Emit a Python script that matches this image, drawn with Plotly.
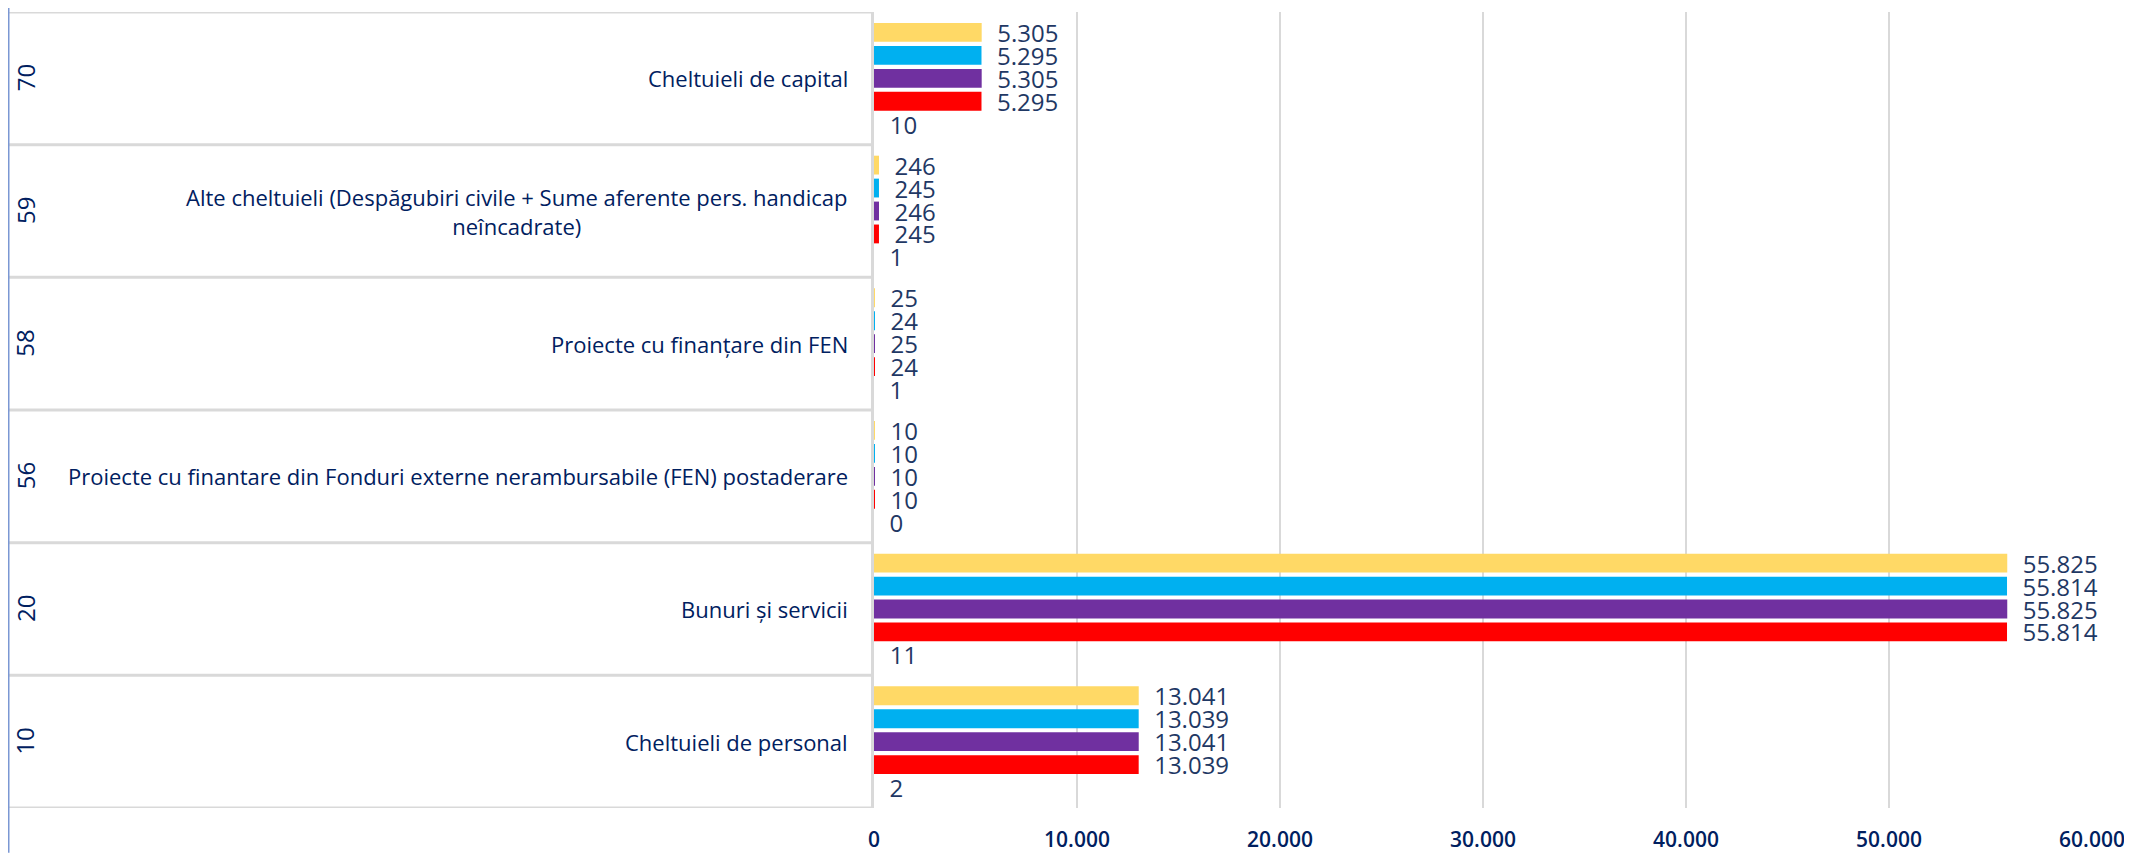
import plotly.graph_objects as go

codes = ["10", "20", "56", "58", "59", "70"]
names = [
    "Cheltuieli de personal",
    "Bunuri și servicii",
    "Proiecte cu finantare din Fonduri externe nerambursabile (FEN) postaderare",
    "Proiecte cu finanțare din FEN",
    "Alte cheltuieli (Despăgubiri civile + Sume aferente pers. handicap<br>neîncadrate)",
    "Cheltuieli de capital",
]
serie_galben = [13041, 55825, 10, 25, 246, 5305]
serie_albastru = [13039, 55814, 10, 24, 245, 5295]
serie_mov = [13041, 55825, 10, 25, 246, 5305]
serie_rosu = [13039, 55814, 10, 24, 245, 5295]
serie_5 = [2, 11, 0, 1, 1, 10]
x_ticks = [0, 10000, 20000, 30000, 40000, 50000, 60000]

NAVY = "#1F3864"
GRID = "#D9D9D9"
FONT = "Open Sans"

fig = go.Figure()
# plotly stacks grouped horizontal bars bottom->top in trace order
series = [
    ("Seria 5", serie_5, "rgba(0,0,0,0)"),
    ("Seria 4", serie_rosu, "#FF0000"),
    ("Seria 3", serie_mov, "#7030A0"),
    ("Seria 2", serie_albastru, "#00B0F0"),
    ("Seria 1", serie_galben, "#FFD966"),
]
for nm, vals, col in series:
    fig.add_trace(go.Bar(
        y=codes, x=vals, name=nm, orientation="h",
        marker=dict(color=col, line=dict(width=0)),
        texttemplate="\u00a0\u00a0%{x:,}", textposition="outside",
        textfont=dict(family=FONT, size=24, color=NAVY),
        constraintext="none", cliponaxis=False, showlegend=False,
    ))

# figure is placed by the page with an 8px body margin
W, H = 2124, 849
plot_l, plot_r, plot_t, plot_b = 866, 2084, 4, 804
pw = plot_r - plot_l
ph = plot_b - plot_t

annotations = []
for i, (c, n) in enumerate(zip(codes, names)):
    annotations.append(dict(
        x=0, xref="paper", y=i, yref="y", xshift=-24,
        xanchor="right", yanchor="middle", align="center", showarrow=False,
        text=n, font=dict(family=FONT, size=22, color="#002060"),
    ))
    annotations.append(dict(
        x=0, xref="paper", y=i, yref="y", xshift=-(plot_l - 17),
        xanchor="center", yanchor="middle", showarrow=False, textangle=-90,
        text=c, font=dict(family=FONT, size=24, color="#002060"),
    ))

shapes = []
left_paper = (1 - plot_l) / pw
for k in range(len(codes) + 1):
    shapes.append(dict(
        type="line", xref="paper", yref="y", x0=left_paper, x1=0,
        y0=k - 0.5, y1=k - 0.5, line=dict(color=GRID, width=3), layer="below",
    ))
shapes.append(dict(
    type="line", xref="paper", yref="paper", x0=(0 - plot_l) / pw, x1=(0 - plot_l) / pw,
    y0=-(H - plot_b) / ph, y1=plot_b / ph, line=dict(color="#7B97D3", width=3),
))

fig.update_layout(
    width=W, height=H,
    margin=dict(l=plot_l, r=W - plot_r, t=plot_t, b=H - plot_b, pad=0),
    paper_bgcolor="white", plot_bgcolor="white",
    barmode="group", bargap=0.135, bargroupgap=0.18,
    separators=",.",
    annotations=annotations, shapes=shapes,
    xaxis=dict(
        range=[0, 60000], tickvals=x_ticks, tickformat=",",
        showgrid=True, gridcolor=GRID, gridwidth=2, zeroline=False,
        showline=False, ticks="", ticklabelstandoff=17,
        tickfont=dict(family=FONT, size=21, color="#002060", weight=600),
    ),
    yaxis=dict(
        type="category", categoryorder="array", categoryarray=codes,
        range=[-0.5, len(codes) - 0.5], showticklabels=False,
        showgrid=False, zeroline=False, showline=True, linecolor=GRID, linewidth=3,
    ),
)

fig.write_html("out.html")
